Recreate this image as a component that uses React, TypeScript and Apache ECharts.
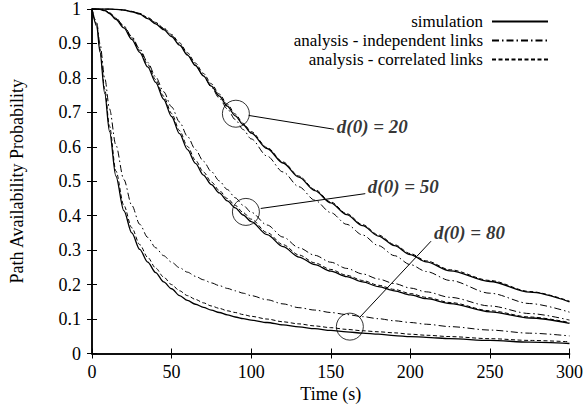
import React, { useEffect, useRef } from "react";
import * as echarts from "echarts";

// Sample times (s)
const time = [0, 3, 5, 8, 11, 15, 20, 25, 30, 35, 40, 45, 50, 55, 60, 65, 70, 75, 80, 85, 90, 95, 100, 110, 120, 130, 140, 150, 160, 170, 180, 190, 200, 210, 225, 250, 275, 300];

// d(0) = 20
const sim20 = [1, 1, 1, 1, 1, 0.999, 0.997, 0.992, 0.985, 0.972, 0.957, 0.94, 0.92, 0.895, 0.866, 0.836, 0.806, 0.776, 0.747, 0.718, 0.69, 0.664, 0.64, 0.595, 0.553, 0.512, 0.473, 0.437, 0.403, 0.371, 0.341, 0.313, 0.287, 0.266, 0.24, 0.209, 0.178, 0.15];
const corr20 = [1, 1, 1, 1, 1, 0.999, 0.997, 0.993, 0.987, 0.975, 0.961, 0.945, 0.926, 0.902, 0.873, 0.843, 0.813, 0.783, 0.753, 0.724, 0.695, 0.668, 0.644, 0.598, 0.556, 0.515, 0.476, 0.44, 0.406, 0.374, 0.344, 0.316, 0.29, 0.269, 0.243, 0.212, 0.18, 0.152];
const indep20 = [1, 1, 1, 1, 1, 0.999, 0.997, 0.993, 0.987, 0.975, 0.96, 0.943, 0.923, 0.898, 0.868, 0.837, 0.805, 0.773, 0.741, 0.71, 0.679, 0.65, 0.623, 0.573, 0.527, 0.484, 0.445, 0.409, 0.375, 0.344, 0.313, 0.284, 0.258, 0.238, 0.212, 0.175, 0.145, 0.12];

// d(0) = 50
const sim50 = [1, 1, 0.999, 0.995, 0.987, 0.97, 0.945, 0.912, 0.874, 0.832, 0.787, 0.738, 0.688, 0.638, 0.592, 0.552, 0.518, 0.49, 0.466, 0.443, 0.423, 0.402, 0.383, 0.345, 0.31, 0.28, 0.258, 0.239, 0.223, 0.208, 0.194, 0.182, 0.17, 0.159, 0.145, 0.121, 0.103, 0.0875];
const corr50 = [1, 1, 0.999, 0.996, 0.989, 0.973, 0.949, 0.917, 0.88, 0.839, 0.795, 0.747, 0.697, 0.647, 0.601, 0.561, 0.527, 0.498, 0.473, 0.45, 0.43, 0.409, 0.39, 0.351, 0.316, 0.286, 0.263, 0.244, 0.227, 0.212, 0.198, 0.186, 0.174, 0.163, 0.148, 0.124, 0.106, 0.09];
const indep50 = [1, 1, 0.999, 0.996, 0.989, 0.974, 0.951, 0.92, 0.884, 0.845, 0.803, 0.76, 0.716, 0.672, 0.63, 0.592, 0.558, 0.528, 0.501, 0.476, 0.452, 0.43, 0.41, 0.373, 0.338, 0.307, 0.285, 0.265, 0.247, 0.231, 0.216, 0.203, 0.19, 0.179, 0.163, 0.138, 0.116, 0.097];

// d(0) = 80
const sim80 = [1, 0.95, 0.875, 0.755, 0.645, 0.515, 0.415, 0.35, 0.302, 0.265, 0.235, 0.208, 0.188, 0.168, 0.154, 0.143, 0.134, 0.126, 0.119, 0.112, 0.106, 0.101, 0.097, 0.09, 0.083, 0.077, 0.072, 0.067, 0.063, 0.059, 0.056, 0.052, 0.049, 0.047, 0.043, 0.038, 0.033, 0.029];
const corr80 = [1, 0.955, 0.885, 0.768, 0.66, 0.53, 0.43, 0.365, 0.316, 0.279, 0.248, 0.222, 0.2, 0.182, 0.168, 0.157, 0.147, 0.138, 0.131, 0.124, 0.119, 0.113, 0.108, 0.1, 0.092, 0.086, 0.08, 0.075, 0.07, 0.066, 0.063, 0.06, 0.056, 0.053, 0.049, 0.043, 0.038, 0.034];
const indep80 = [1, 0.96, 0.9, 0.8, 0.71, 0.605, 0.505, 0.43, 0.375, 0.337, 0.307, 0.284, 0.265, 0.249, 0.236, 0.224, 0.214, 0.205, 0.197, 0.189, 0.182, 0.175, 0.168, 0.156, 0.144, 0.133, 0.126, 0.119, 0.113, 0.107, 0.101, 0.095, 0.09, 0.085, 0.078, 0.068, 0.059, 0.051];

const legendNames = ["simulation", "analysis - independent links", "analysis - correlated links"];
const xTicks = [0, 50, 100, 150, 200, 250, 300];
const yTickLabels = ["0", "0.1", "0.2", "0.3", "0.4", "0.5", "0.6", "0.7", "0.8", "0.9", "1"];

// Callouts: circled point on a curve, leader line end, label anchor
const calloutLabels = ["d(0) = 20", "d(0) = 50", "d(0) = 80"];
const calloutCircles = [[90.4, 0.696], [96.7, 0.411], [162, 0.078]];
const leaderStarts = [[98.5, 0.691], [106, 0.421], [168, 0.104]];
const leaderEnds = [[152, 0.651], [171.7, 0.464], [213, 0.326]];
const labelAnchors = [[153.5, 0.66], [173, 0.486], [214.5, 0.352]];

const FONT = "'Liberation Serif', 'Times New Roman', serif";
const FS = 18;

const styles: Record<string, any> = {
  simulation: { type: "solid", width: 1.3 },
  "analysis - independent links": { type: [7, 3, 1.5, 3], width: 1 },
  "analysis - correlated links": { type: [4, 2.5], width: 1 },
};

function curve(name: string, values: number[], z: number) {
  return {
    type: "line",
    name,
    data: time.map((t, i) => [t, values[i]]),
    symbol: "none",
    smooth: 0.3,
    smoothMonotone: "x",
    z,
    lineStyle: { color: "#000", ...styles[name] },
    itemStyle: { color: "#000" },
    silent: true,
  };
}

export default function App() {
  const ref = useRef<HTMLDivElement>(null);

  useEffect(() => {
    if (!ref.current) return;
    const chart = echarts.init(ref.current, null, { renderer: "svg" });

    const axisLine = { show: true, lineStyle: { color: "#000", width: 1.5 } };
    const tick = { show: true, inside: true, length: 5, lineStyle: { color: "#000", width: 1 } };

    const option: any = {
      animation: false,
      backgroundColor: "#fff",
      textStyle: { fontFamily: FONT, color: "#000" },
      grid: { left: 92, right: 14, top: 8, bottom: 61.5 },
      legend: {
        data: legendNames,
        orient: "vertical",
        right: 37,
        top: 13,
        align: "right",
        padding: 0,
        itemGap: 2,
        itemWidth: 56,
        itemHeight: 14,
        itemStyle: { opacity: 0 },
        textStyle: {
          fontFamily: FONT,
          fontSize: 17,
          lineHeight: 16,
          color: "#000",
          padding: [0, 4, 0, 0],
        },
        selectedMode: false,
      },
      xAxis: [
        {
          type: "value",
          min: 0,
          max: 300,
          interval: 50,
          position: "bottom",
          axisLine,
          axisTick: tick,
          splitLine: { show: false },
          axisLabel: {
            fontFamily: FONT,
            fontSize: FS,
            color: "#000",
            margin: 9,
            formatter: (v: number) => String(xTicks.find((t) => t === v) ?? v),
          },
          name: "Time (s)",
          nameLocation: "middle",
          nameGap: 29,
          nameTextStyle: { fontFamily: FONT, fontSize: FS, color: "#000" },
        },
        {
          type: "value",
          min: 0,
          max: 300,
          interval: 50,
          position: "top",
          axisLine,
          axisTick: tick,
          splitLine: { show: false },
          axisLabel: { show: false },
        },
      ],
      yAxis: [
        {
          type: "value",
          min: 0,
          max: 1,
          interval: 0.1,
          position: "left",
          axisLine,
          axisTick: tick,
          splitLine: { show: false },
          axisLabel: {
            fontFamily: FONT,
            fontSize: FS,
            color: "#000",
            margin: 11,
            formatter: (v: number) => yTickLabels[Math.round(v * 10)],
          },
          name: "Path Availability Probability",
          nameLocation: "middle",
          nameGap: 66,
          nameTextStyle: { fontFamily: FONT, fontSize: FS, color: "#000" },
        },
        {
          type: "value",
          min: 0,
          max: 1,
          interval: 0.1,
          position: "right",
          axisLine,
          axisTick: tick,
          splitLine: { show: false },
          axisLabel: { show: false },
        },
      ],
      series: [
        curve("analysis - independent links", indep20, 2),
        curve("analysis - correlated links", corr20, 3),
        curve("simulation", sim20, 4),
        curve("analysis - independent links", indep50, 2),
        curve("analysis - correlated links", corr50, 3),
        curve("simulation", sim50, 4),
        curve("analysis - independent links", indep80, 2),
        curve("analysis - correlated links", corr80, 3),
        curve("simulation", sim80, 4),
        {
          type: "scatter",
          data: calloutCircles,
          symbol: "circle",
          symbolSize: 27,
          itemStyle: { color: "rgba(0,0,0,0)", borderColor: "#000", borderWidth: 1 },
          z: 5,
          silent: true,
        },
        {
          type: "lines",
          coordinateSystem: "cartesian2d",
          data: leaderStarts.map((s, i) => ({ coords: [s, leaderEnds[i]] })),
          lineStyle: { color: "#000", width: 1, opacity: 1 },
          z: 5,
          silent: true,
        },
        {
          type: "scatter",
          data: labelAnchors.map((p, i) => ({ name: calloutLabels[i], value: p })),
          symbol: "circle",
          symbolSize: 1,
          itemStyle: { color: "rgba(0,0,0,0)" },
          label: {
            show: true,
            position: "right",
            distance: 0,
            formatter: "{b}",
            fontFamily: FONT,
            fontSize: 19,
            fontWeight: "bold",
            fontStyle: "italic",
            color: "#000",
          },
          z: 6,
          silent: true,
        },
      ],
    };

    chart.setOption(option);
    return () => chart.dispose();
  }, []);

  return (
    <div
      ref={ref}
      style={{ position: "absolute", left: 0, top: 0, width: 586, height: 415 }}
    />
  );
}
